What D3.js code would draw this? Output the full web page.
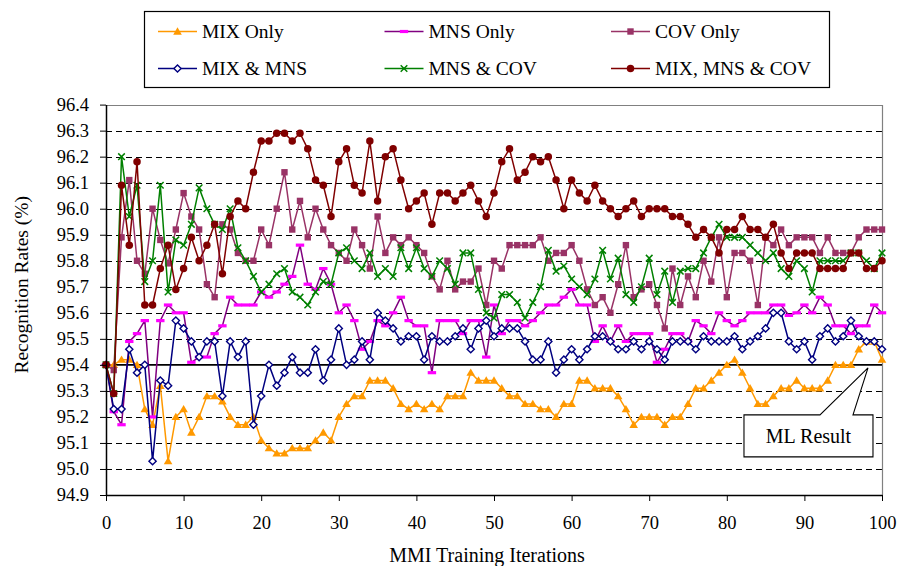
<!DOCTYPE html>
<html>
<head>
<meta charset="utf-8">
<script src="https://cdn.jsdelivr.net/npm/d3@7"></script>
<style>
  html, body { margin: 0; padding: 0; background: #fff; }
  svg { display: block; }
  svg text { font-family: "Times New Roman", "Liberation Serif", Tinos, Times, "DejaVu Serif", serif; }
</style>
</head>
<body>
<svg id="chart" width="900" height="566"></svg>
<script>
// MMI training iterations 0..100
const iterations = d3.range(0, 101);

// Recognition rates (%) per iteration for each feature combination
const mixOnly = [
  95.40, 95.40, 95.42, 95.42, 95.40, 95.23, 95.17, 95.32, 95.03, 95.20,
  95.23, 95.14, 95.20, 95.28, 95.28, 95.26, 95.20, 95.17, 95.17, 95.20,
  95.11, 95.08, 95.06, 95.06, 95.08, 95.08, 95.08, 95.11, 95.14, 95.11,
  95.20, 95.25, 95.28, 95.28, 95.34, 95.34, 95.34, 95.31, 95.25, 95.23,
  95.25, 95.23, 95.25, 95.23, 95.28, 95.28, 95.28, 95.37, 95.34, 95.34,
  95.34, 95.31, 95.28, 95.28, 95.25, 95.25, 95.23, 95.23, 95.20, 95.25,
  95.25, 95.34, 95.34, 95.31, 95.31, 95.31, 95.28, 95.23, 95.17, 95.20,
  95.20, 95.20, 95.17, 95.20, 95.20, 95.25, 95.31, 95.31, 95.34, 95.37,
  95.40, 95.42, 95.37, 95.31, 95.25, 95.25, 95.28, 95.31, 95.31, 95.34,
  95.31, 95.31, 95.31, 95.34, 95.40, 95.40, 95.40, 95.46, 95.49, 95.49,
  95.42
];

const mnsOnly = [
  95.40, 95.22, 95.17, 95.49, 95.52, 95.57, 95.20, 95.57, 95.63, 95.60,
  95.60, 95.41, 95.43, 95.43, 95.52, 95.55, 95.66, 95.63, 95.63, 95.63,
  95.68, 95.66, 95.68, 95.71, 95.74, 95.86, 95.71, 95.69, 95.77, 95.71,
  95.60, 95.63, 95.57, 95.46, 95.49, 95.57, 95.55, 95.60, 95.66, 95.57,
  95.55, 95.55, 95.37, 95.57, 95.57, 95.57, 95.52, 95.57, 95.57, 95.43,
  95.63, 95.52, 95.57, 95.57, 95.55, 95.57, 95.60, 95.63, 95.63, 95.66,
  95.69, 95.63, 95.63, 95.49, 95.55, 95.49, 95.55, 95.49, 95.52, 95.52,
  95.52, 95.41, 95.46, 95.52, 95.52, 95.49, 95.57, 95.55, 95.52, 95.60,
  95.57, 95.55, 95.57, 95.60, 95.60, 95.60, 95.63, 95.63, 95.59, 95.60,
  95.63, 95.60, 95.66, 95.63, 95.55, 95.55, 95.52, 95.55, 95.55, 95.63,
  95.60
];

const covOnly = [
  95.40, 95.38, 95.89, 96.11, 95.80, 95.75, 96.00, 95.88, 95.79, 95.92,
  96.06, 95.97, 95.92, 95.71, 95.66, 95.94, 95.92, 95.83, 95.80, 95.80,
  95.92, 95.86, 96.00, 96.14, 95.92, 96.03, 95.89, 96.00, 95.92, 95.86,
  95.83, 95.80, 95.92, 95.86, 95.77, 95.97, 95.83, 95.89, 95.86, 95.89,
  95.86, 95.83, 95.74, 95.69, 95.80, 95.69, 95.72, 95.72, 95.77, 95.63,
  95.80, 95.77, 95.86, 95.86, 95.86, 95.86, 95.89, 95.80, 95.83, 95.83,
  95.86, 95.80, 95.69, 95.63, 95.66, 95.60, 95.71, 95.86, 95.66, 95.69,
  95.71, 95.63, 95.54, 95.77, 95.63, 95.74, 95.66, 95.80, 95.72, 95.89,
  95.66, 95.83, 95.83, 95.80, 95.63, 95.89, 95.86, 95.92, 95.86, 95.89,
  95.89, 95.89, 95.83, 95.89, 95.83, 95.83, 95.83, 95.89, 95.92, 95.92,
  95.92
];

const mixMns = [
  95.40, 95.23, 95.23, 95.46, 95.37, 95.40, 95.03, 95.34, 95.32, 95.57,
  95.54, 95.49, 95.43, 95.49, 95.49, 95.28, 95.49, 95.43, 95.49, 95.17,
  95.28, 95.40, 95.32, 95.37, 95.43, 95.37, 95.37, 95.46, 95.34, 95.42,
  95.54, 95.40, 95.42, 95.49, 95.42, 95.60, 95.57, 95.54, 95.49, 95.51,
  95.51, 95.42, 95.51, 95.49, 95.49, 95.51, 95.54, 95.46, 95.54, 95.57,
  95.51, 95.54, 95.54, 95.54, 95.49, 95.42, 95.42, 95.49, 95.37, 95.42,
  95.46, 95.42, 95.46, 95.51, 95.51, 95.49, 95.46, 95.46, 95.49, 95.46,
  95.49, 95.46, 95.42, 95.49, 95.49, 95.49, 95.46, 95.51, 95.49, 95.49,
  95.49, 95.51, 95.46, 95.49, 95.51, 95.54, 95.60, 95.60, 95.49, 95.46,
  95.49, 95.42, 95.51, 95.54, 95.49, 95.51, 95.57, 95.51, 95.49, 95.49,
  95.46
];

const mnsCov = [
  95.40, 95.29, 96.20, 95.97, 96.09, 95.72, 95.80, 96.09, 95.68, 95.88,
  95.86, 95.94, 96.08, 96.00, 95.94, 95.92, 96.00, 95.85, 95.80, 95.74,
  95.68, 95.71, 95.75, 95.77, 95.68, 95.66, 95.63, 95.68, 95.72, 95.71,
  95.83, 95.85, 95.80, 95.77, 95.83, 95.74, 95.77, 95.74, 95.85, 95.77,
  95.85, 95.77, 95.74, 95.80, 95.77, 95.71, 95.83, 95.83, 95.69, 95.60,
  95.58, 95.67, 95.67, 95.64, 95.58, 95.64, 95.70, 95.84, 95.76, 95.78,
  95.73, 95.70, 95.67, 95.73, 95.84, 95.73, 95.81, 95.67, 95.64, 95.70,
  95.81, 95.67, 95.76, 95.64, 95.76, 95.77, 95.77, 95.83, 95.89, 95.94,
  95.89, 95.89, 95.89, 95.86, 95.83, 95.80, 95.83, 95.77, 95.74, 95.80,
  95.77, 95.68, 95.80, 95.80, 95.80, 95.80, 95.83, 95.83, 95.80, 95.77,
  95.83
];

const mixMnsCov = [
  95.40, 95.29, 96.09, 95.86, 96.18, 95.63, 95.63, 95.77, 95.86, 95.69,
  95.77, 95.89, 95.80, 95.86, 95.94, 95.75, 95.97, 96.03, 96.00, 96.14,
  96.26, 96.26, 96.29, 96.29, 96.26, 96.29, 96.23, 96.11, 96.09, 95.97,
  96.18, 96.23, 96.09, 96.06, 96.26, 96.03, 96.20, 96.23, 96.11, 96.00,
  96.03, 96.06, 95.94, 96.06, 96.06, 96.03, 96.06, 96.09, 96.03, 95.97,
  96.06, 96.18, 96.23, 96.11, 96.14, 96.20, 96.18, 96.20, 96.11, 96.00,
  96.11, 96.06, 96.03, 96.09, 96.03, 96.00, 95.97, 96.00, 96.03, 95.97,
  96.00, 96.00, 96.00, 95.97, 95.97, 95.94, 95.89, 95.92, 95.89, 95.83,
  95.92, 95.92, 95.97, 95.92, 95.92, 95.89, 95.94, 95.83, 95.77, 95.83,
  95.83, 95.83, 95.77, 95.77, 95.77, 95.77, 95.83, 95.83, 95.77, 95.77,
  95.80
];

// Baseline: maximum-likelihood result
const mlResult = 95.4;
const mlLabel = "ML Result";
const mlPointerIteration = 98;

// Axis ticks
const yTickValues = [94.9, 95.0, 95.1, 95.2, 95.3, 95.4, 95.5, 95.6, 95.7, 95.8, 95.9, 96.0, 96.1, 96.2, 96.3, 96.4];
const xTickValues = [0, 10, 20, 30, 40, 50, 60, 70, 80, 90, 100];

const seriesNames = ["MIX Only", "MNS Only", "COV Only", "MIX & MNS", "MNS & COV", "MIX, MNS & COV"];
const seriesValues = [mixOnly, mnsOnly, covOnly, mixMns, mnsCov, mixMnsCov];
const seriesLineColors = ["#FF9900", "#800080", "#993366", "#000080", "#008000", "#800000"];
const seriesMarkerColors = ["#FF9900", "#FF00FF", "#993366", "#000080", "#008000", "#800000"];
const seriesMarkers = ["triangle", "dash", "square", "diamond", "cross", "circle"];

const series = seriesNames.map((name, i) => ({
  name,
  values: seriesValues[i],
  line: seriesLineColors[i],
  color: seriesMarkerColors[i],
  marker: seriesMarkers[i]
}));

const FONT = '"Times New Roman", "Liberation Serif", Tinos, Times, "DejaVu Serif", serif';
const W = 900, H = 566;
const margin = { top: 104.6, right: 18, bottom: 71, left: 106 };

const svg = d3.select("#chart");

const x = d3.scaleLinear().domain([0, 100]).range([margin.left, W - margin.right]);
const y = d3.scaleLinear().domain([94.9, 96.4]).range([H - margin.bottom, margin.top]);

const plotLeft = x(0), plotRight = x(100), plotTop = y(96.4), plotBottom = y(94.9);

// Dashed horizontal gridlines
svg.append("g")
  .selectAll("line")
  .data(yTickValues.filter(v => v > 94.95 && v < 96.35 && Math.abs(v - mlResult) > 1e-6))
  .join("line")
  .attr("x1", plotLeft)
  .attr("x2", plotRight)
  .attr("y1", d => Math.round(y(d)) + 0.5)
  .attr("y2", d => Math.round(y(d)) + 0.5)
  .attr("stroke", "#000")
  .attr("stroke-width", 1)
  .attr("stroke-dasharray", "6,4");

// Plot area frame (top/right)
svg.append("path")
  .attr("d", `M${plotLeft},${Math.round(plotTop) + 0.5}H${Math.round(plotRight) + 0.5}V${plotBottom}`)
  .attr("fill", "none")
  .attr("stroke", "#808080")
  .attr("stroke-width", 1.2);

// ML result baseline
svg.append("line")
  .attr("x1", plotLeft)
  .attr("x2", plotRight)
  .attr("y1", y(mlResult))
  .attr("y2", y(mlResult))
  .attr("stroke", "#000")
  .attr("stroke-width", 1.6);

// Marker shapes
function markerPath(type) {
  switch (type) {
    case "triangle": return "M0,-4.2L4.3,3.2L-4.3,3.2Z";
    case "square": return "M-3.2,-3.2H3.2V3.2H-3.2Z";
    case "diamond": return "M0,-3.6L3.6,0L0,3.6L-3.6,0Z";
    case "cross": return "M-3.3,-3.3L3.3,3.3M-3.3,3.3L3.3,-3.3";
    case "circle": return d3.symbol(d3.symbolCircle, 44)();
    case "dash": return "M-4.2,-1.6H4.2V1.6H-4.2Z";
  }
}

function drawMarker(sel, s) {
  sel.attr("d", markerPath(s.marker));
  if (s.marker === "cross") {
    sel.attr("fill", "none").attr("stroke", s.color).attr("stroke-width", 1.5);
  } else if (s.marker === "diamond") {
    sel.attr("fill", "#fff").attr("stroke", s.color).attr("stroke-width", 1.4);
  } else {
    sel.attr("fill", s.color).attr("stroke", "none");
  }
}

const lineGen = d3.line()
  .x((d, i) => x(iterations[i]))
  .y(d => y(d));

series.forEach(s => {
  const g = svg.append("g").attr("class", "series");
  g.append("path")
    .attr("d", lineGen(s.values))
    .attr("fill", "none")
    .attr("stroke", s.line)
    .attr("stroke-width", 1.5)
    .attr("stroke-linejoin", "round");
  g.selectAll("path.mk")
    .data(s.values)
    .join("path")
    .attr("class", "mk")
    .attr("transform", (d, i) => `translate(${x(iterations[i])},${y(d)})`)
    .call(sel => drawMarker(sel, s));
});

// Axes
const yAxis = svg.append("g")
  .attr("transform", `translate(${plotLeft},0)`)
  .call(d3.axisLeft(y).tickValues(yTickValues).tickFormat(d3.format(".1f")).tickSizeOuter(0).tickSizeInner(6).tickPadding(11));
yAxis.attr("font-family", null);
yAxis.select(".domain").attr("stroke", "#000").attr("stroke-width", 1.5);
yAxis.selectAll(".tick line").attr("stroke", "#000");
yAxis.selectAll(".tick text")
  .style("font-family", FONT)
  .attr("font-size", 18.5)
  .attr("fill", "#000");

const xAxis = svg.append("g")
  .attr("transform", `translate(0,${plotBottom})`)
  .call(d3.axisBottom(x).tickValues(xTickValues).tickFormat(d3.format("d")).tickSizeOuter(0).tickSizeInner(6).tickPadding(15));
xAxis.attr("font-family", null);
xAxis.select(".domain").attr("stroke", "#000").attr("stroke-width", 1.5);
xAxis.selectAll(".tick line").attr("stroke", "#000");
xAxis.selectAll(".tick text")
  .style("font-family", FONT)
  .attr("font-size", 18.5)
  .attr("fill", "#000");

// Axis titles
svg.append("text")
  .attr("transform", `translate(21,${(plotTop + plotBottom) / 2 - 15}) rotate(-90)`)
  .attr("text-anchor", "middle")
  .attr("dy", "0.35em")
  .style("font-family", FONT)
  .attr("font-size", 19.5)
  .text("Recognition Rates (%)");

svg.append("text")
  .attr("x", (plotLeft + plotRight) / 2 - 7)
  .attr("y", 562)
  .attr("text-anchor", "middle")
  .style("font-family", FONT)
  .attr("font-size", 20)
  .text("MMI Training Iterations");

// Callout for the ML baseline
const tipX = x(mlPointerIteration) + 1.5, tipY = y(mlResult) + 3;
const bx0 = tipX - 124, bx1 = tipX + 5, by0 = tipY + 47, by1 = tipY + 89;
svg.append("path")
  .attr("d", `M${bx0},${by0}H${tipX - 48}L${tipX},${tipY}L${tipX - 15},${by0}H${bx1}V${by1}H${bx0}Z`)
  .attr("fill", "#fff")
  .attr("stroke", "#000")
  .attr("stroke-width", 1.1);
svg.append("text")
  .attr("x", (bx0 + bx1) / 2)
  .attr("y", (by0 + by1) / 2)
  .attr("dy", "0.35em")
  .attr("text-anchor", "middle")
  .style("font-family", FONT)
  .attr("font-size", 20)
  .text(mlLabel);

// Legend
const legend = svg.append("g");
legend.append("rect")
  .attr("x", 144.5).attr("y", 11.5)
  .attr("width", 685).attr("height", 76)
  .attr("fill", "#fff")
  .attr("stroke", "#000")
  .attr("stroke-width", 1.2);

series.forEach((s, i) => {
  const col = i % 3, row = Math.floor(i / 3);
  const lx = 158 + 226.5 * col;
  const ly = 31.5 + 37 * row;
  const item = legend.append("g");
  item.append("line")
    .attr("x1", lx).attr("x2", lx + 39)
    .attr("y1", ly).attr("y2", ly)
    .attr("stroke", s.line).attr("stroke-width", 1.5);
  item.append("path")
    .attr("transform", `translate(${lx + 19.5},${ly})`)
    .call(sel => drawMarker(sel, s));
  item.append("text")
    .attr("x", lx + 44)
    .attr("y", ly)
    .attr("dy", "0.35em")
    .style("font-family", FONT)
    .attr("font-size", 19.5)
    .text(s.name);
});
</script>
</body>
</html>
